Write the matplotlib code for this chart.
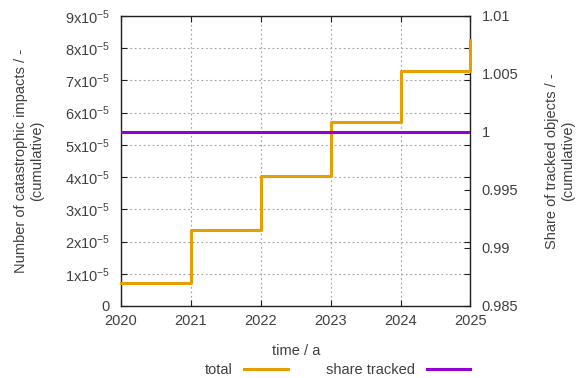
import matplotlib.pyplot as plt
from matplotlib.ticker import FixedLocator, FuncFormatter
from matplotlib.lines import Line2D

plt.rcParams['font.family'] = ['Liberation Sans', 'DejaVu Sans']
plt.rcParams['mathtext.fontset'] = 'custom'
plt.rcParams['mathtext.rm'] = 'Liberation Sans'
plt.rcParams['mathtext.it'] = 'Liberation Sans'
plt.rcParams['font.size'] = 10

# cumulative impacts per year (step at each year)
years = [2020, 2021, 2022, 2023, 2024, 2025]
impacts = [0.70e-5, 2.35e-5, 4.03e-5, 5.71e-5, 7.30e-5, 8.26e-5]
share_tracked = [1.0, 1.0, 1.0, 1.0, 1.0, 1.0]

orange = '#e69f00'
purple = '#9400d3'
txt = '#404040'

fig = plt.figure(figsize=(5.77, 3.78), dpi=100)
ax = fig.add_axes([0.2097, 0.1905, 0.6057, 0.7672])
ax2 = ax.twinx()

ax.step(years, impacts, where='post', color=orange, lw=2.2, zorder=3, clip_on=False)
ax2.plot(years, share_tracked, color=purple, lw=2.2, zorder=3)

ax.set_xlim(2020, 2025)
ax.set_ylim(0, 9e-5)
ax2.set_ylim(0.985, 1.01)

ax.set_xticks(years)
ax.set_yticks([i * 1e-5 for i in range(10)])

def sci(v, pos):
    n = int(round(v / 1e-5))
    if n == 0:
        return '0'
    return r'%dx10$^{\mathregular{-5}}$' % n

ax.yaxis.set_major_formatter(FuncFormatter(sci))
ax2.yaxis.set_major_locator(FixedLocator([0.985, 0.99, 0.995, 1.0, 1.005, 1.01]))
ax2.yaxis.set_major_formatter(FuncFormatter(lambda v, p: ('%.3f' % v).rstrip('0').rstrip('.')))

ax.grid(True, color='#a0a0a0', ls=(0, (1.5, 2.5)), lw=0.8)
ax.tick_params(direction='in', length=4, width=0.8, top=True, right=True,
               colors='#202020', labelcolor=txt, labelsize=10.5)
ax2.tick_params(direction='in', length=4, width=0.8, colors='#202020',
                labelcolor=txt, labelsize=10.5, pad=8)
ax.tick_params(axis='y', pad=8)
ax.tick_params(axis='x', pad=6)
# border belongs to the first axes so the step line sits over it
for s in ax.spines.values():
    s.set_linewidth(1.0)
    s.set_color('#202020')
for s in ax2.spines.values():
    s.set_visible(False)

ax.set_ylabel('Number of catastrophic impacts / -\n(cumulative)', color=txt, fontsize=10.5, labelpad=15)
ax2.set_ylabel('Share of tracked objects / -\n(cumulative)', color=txt, fontsize=10.5, labelpad=19)
ax.set_xlabel('time / a', color=txt, fontsize=10.5, labelpad=11)

handles = [Line2D([], [], color=orange, lw=2.2), Line2D([], [], color=purple, lw=2.2)]
fig.legend(handles, ['total', 'share tracked'], loc='lower center', bbox_to_anchor=(0.585, -0.032),
           ncol=2, frameon=False, markerfirst=False, handlelength=3.0, columnspacing=2.6,
           fontsize=10.5, labelcolor=txt)

fig.savefig('out.png', dpi=100)
